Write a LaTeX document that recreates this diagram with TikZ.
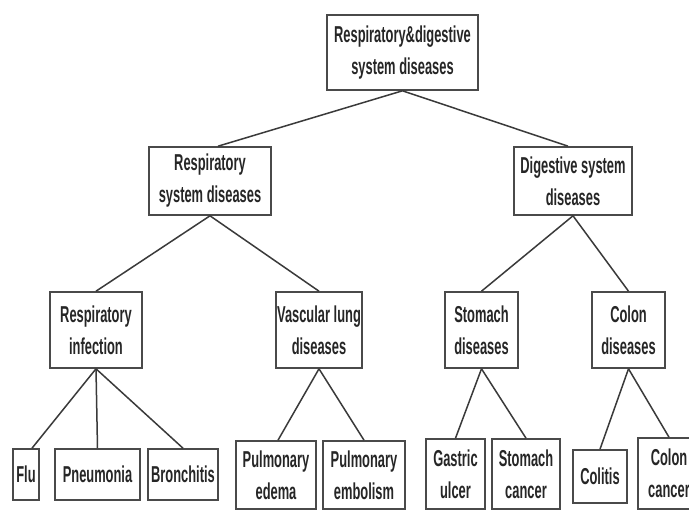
\documentclass[tikz,border=0pt]{standalone}
\usepackage{fontspec}
\setmainfont[FakeStretch=0.56]{Liberation Sans}
\definecolor{edgegray}{HTML}{3A3A3A}
\definecolor{boxgray}{HTML}{4A4A4A}
\begin{document}
\begin{tikzpicture}[x=1pt,y=-1pt,
  dbox/.style={draw=boxgray,line width=1.6pt,fill=white,inner sep=0pt,align=center,
    font=\fontsize{23}{32}\selectfont\bfseries,text=black!85},
  link/.style={draw=edgegray,line width=1.5pt}]
\useasboundingbox (0,0) rectangle (689,511);
\fill[white] (0,0) rectangle (689,511);
% level 0
\node[dbox,minimum width=151pt,minimum height=75pt] (root) at (402.5,52.5) {Respiratory\&digestive\\system diseases};
% level 1
\node[dbox,minimum width=122pt,minimum height=68pt] (rsd) at (210,181) {Respiratory\\system diseases};
\node[dbox,minimum width=118pt,minimum height=68pt] (dsd) at (573,181) {Digestive system\\diseases};
% level 2
\node[dbox,minimum width=92pt,minimum height=76pt] (ri) at (96,330) {Respiratory\\infection};
\node[dbox,minimum width=86pt,minimum height=76pt] (vl) at (319,330) {Vascular lung\\diseases};
\node[dbox,minimum width=73pt,minimum height=76pt] (sd) at (481.5,330) {Stomach\\diseases};
\node[dbox,minimum width=73pt,minimum height=76pt] (cd) at (628.5,330) {Colon\\diseases};
% level 3
\node[dbox,minimum width=26pt,minimum height=51pt] (flu) at (26,474.5) {Flu};
\node[dbox,minimum width=85pt,minimum height=51pt] (pneu) at (97.5,474.5) {Pneumonia};
\node[dbox,minimum width=70pt,minimum height=51pt] (bron) at (183,474.5) {Bronchitis};
\node[dbox,minimum width=80pt,minimum height=68pt] (pe) at (276,475) {Pulmonary\\edema};
\node[dbox,minimum width=82pt,minimum height=68pt] (pemb) at (364,475) {Pulmonary\\embolism};
\node[dbox,minimum width=59pt,minimum height=70pt] (gu) at (455.5,474) {Gastric\\ulcer};
\node[dbox,minimum width=68pt,minimum height=70pt] (sc) at (526,474) {Stomach\\cancer};
\node[dbox,minimum width=54pt,minimum height=53pt] (colitis) at (600,476.5) {Colitis};
\node[dbox,minimum width=62pt,minimum height=71pt] (cc) at (669,473.5) {Colon\\cancer};
% connectors
\draw[link] (root.south) -- ([xshift=8pt]rsd.north);
\draw[link] (root.south) -- ([xshift=-5pt]dsd.north);
\draw[link] (rsd.south) -- (ri.north);
\draw[link] (rsd.south) -- (vl.north);
\draw[link] (dsd.south) -- (sd.north);
\draw[link] (dsd.south) -- (cd.north);
\draw[link] (ri.south) -- ([xshift=6pt]flu.north);
\draw[link] (ri.south) -- (pneu.north);
\draw[link] (ri.south) -- (bron.north);
\draw[link] (vl.south) -- ([xshift=2pt]pe.north);
\draw[link] (vl.south) -- (pemb.north);
\draw[link] (sd.south) -- (gu.north);
\draw[link] (sd.south) -- (sc.north);
\draw[link] (cd.south) -- (colitis.north);
\draw[link] (cd.south) -- (cc.north);
\end{tikzpicture}
\end{document}
